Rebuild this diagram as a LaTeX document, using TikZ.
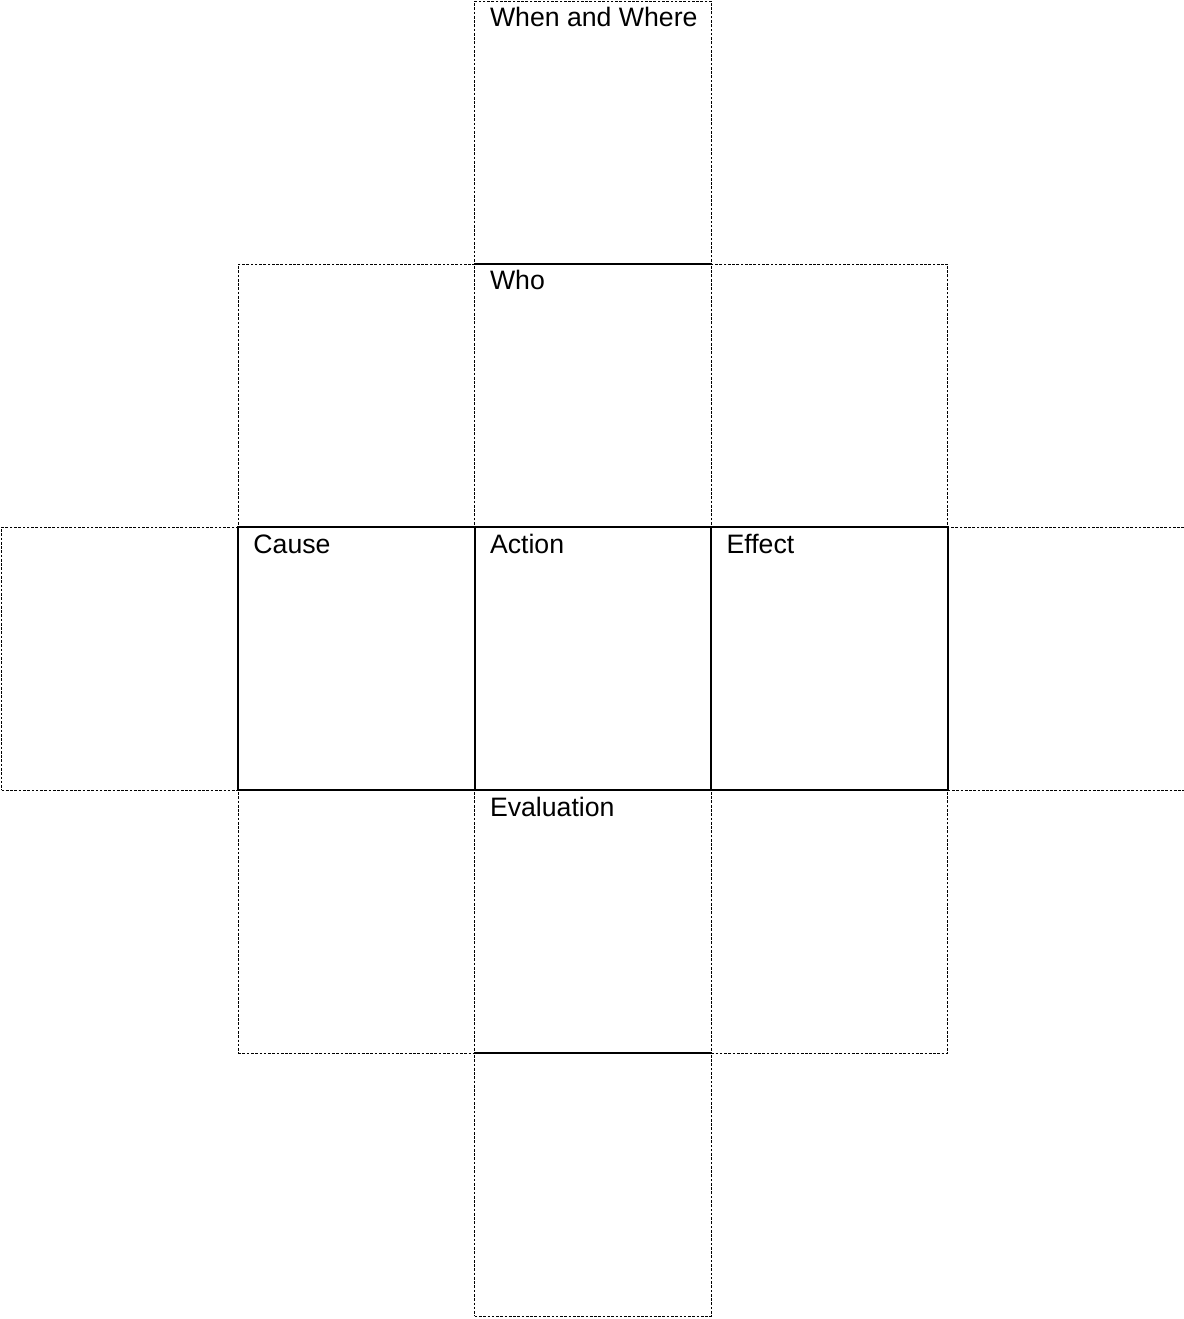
\documentclass[tikz,border=0pt]{standalone}
\usepackage{fontspec}
\setmainfont{Liberation Sans}
\usetikzlibrary{positioning}

\begin{document}
\begin{tikzpicture}[x=0.75pt,y=0.75pt,
  node distance=0pt,
  cell/.style={rectangle,draw,line width=0.6pt,dash pattern=on 2pt off 1.2pt,
               minimum width=177.4pt,minimum height=197.25pt,
               inner sep=0pt,outer sep=0pt},
  core/.style={cell,solid,line width=1.4pt},
  edge/.style={line width=1.4pt},
  tag/.style={label={[anchor=base west,inner sep=0pt,xshift=11.25pt,yshift=-19.5pt,
               font=\fontsize{20}{24}\selectfont]north west:#1}}]

\useasboundingbox (0,0) rectangle (1183,-1319);

% dashed frame of the net
\node[cell] (action0) at (593,-658.5) {};
\node[cell,left=of action0] (cause0) {};
\node[cell,left=of cause0] (farleft) {};
\node[cell,right=of action0] (effect0) {};
\node[cell,right=of effect0,minimum width=182pt] (farright) {};

\node[cell,tag=Who,above=of action0] (who) {};
\node[cell,left=of who] (wholeft) {};
\node[cell,right=of who] (whoright) {};
\node[cell,tag=When and Where,above=of who] (whenwhere) {};

\node[cell,tag=Evaluation,below=of action0] (eval) {};
\node[cell,left=of eval] (evalleft) {};
\node[cell,right=of eval] (evalright) {};
\node[cell,below=of eval] (bottom) {};

% solid middle row
\node[core,tag=Action] (action) at (action0) {};
\node[core,tag=Cause] (cause) at (cause0) {};
\node[core,tag=Effect] (effect) at (effect0) {};

\draw[edge] (who.north west) -- (who.north east);
\draw[edge] (eval.south west) -- (eval.south east);
\end{tikzpicture}
\end{document}
